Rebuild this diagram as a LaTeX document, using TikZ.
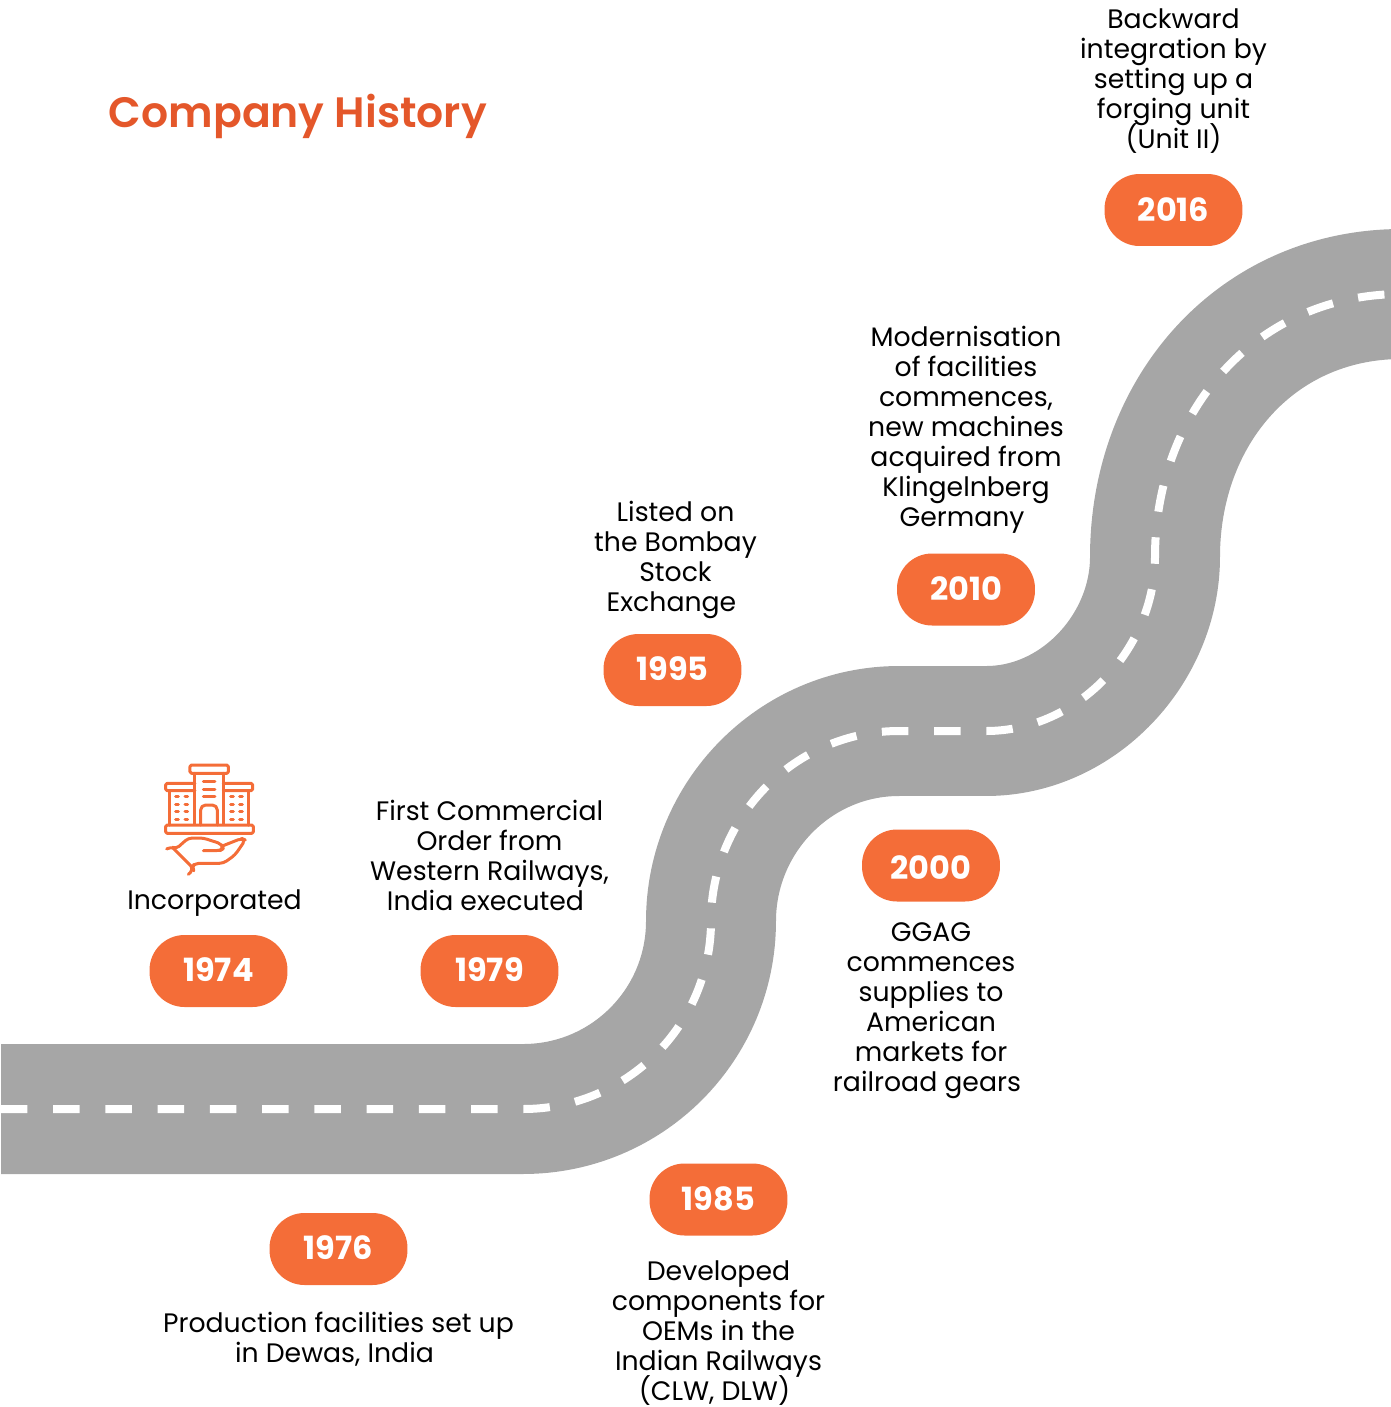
\documentclass[tikz,border=0pt]{standalone}
\usepackage{fontspec}
\setmainfont{Poppins}
\newfontfamily\titlefont{Poppins SemiBold}
\definecolor{roadgray}{HTML}{A6A6A6}
\definecolor{pillorange}{HTML}{F46D38}
\definecolor{titleorange}{HTML}{E4572A}
\newcommand{\trail}{\kern0.3em}
\setlength{\normallineskiplimit}{-20pt}
\setlength{\lineskiplimit}{-20pt}
\tikzset{
	yearbox/.style={rectangle,fill=pillorange,text=white,minimum width=2.76cm,minimum height=1.44cm,rounded corners=0.7cm,inner sep=0pt,font=\fontsize{18.2}{20}\selectfont\bfseries},
	milestone/.style={align=center,inner sep=0pt,text=black,font=\fontsize{15.2}{17.07}\selectfont},
	roadline/.style={line width=2.6cm,draw=roadgray},
	laneline/.style={line width=0.16cm,draw=white,dash pattern=on 0.53cm off 0.515cm},
	iconline/.style={draw=pillorange,line width=0.06cm,rounded corners=0.03cm,line cap=round,line join=round}
}
\begin{document}
\begin{tikzpicture}[x=0.02cm,y=-0.02cm]
	\clip (0,0) rectangle (1391,1407);
	\def\roadpath{(1,1109) -- (523,1109) .. controls (627,1109) and (711,1025) .. (711,921) .. controls (711,817) and (795,731) .. (899,731) -- (986,731) .. controls (1079,731) and (1155,648) .. (1155,557) .. controls (1155,412) and (1255,295) .. (1400,294)}
	\draw[roadline] \roadpath;
	\draw[laneline] \roadpath;

	\node[anchor=west,inner sep=0pt,text=titleorange,font=\fontsize{24.2}{30}\selectfont\titlefont](title) at (108.5,116) {Company History};

	\node[yearbox](y1974) at (218.5,971) {\raisebox{1.2pt}{1974}};
	\node[yearbox](y1976) at (338.5,1249) {\raisebox{1.2pt}{1976}};
	\node[yearbox](y1979) at (489.5,971) {\raisebox{1.2pt}{1979}};
	\node[yearbox](y1985) at (718.5,1199.5) {\raisebox{0.6pt}{1985}};
	\node[yearbox](y1995) at (672.5,670) {\raisebox{1.2pt}{1995}};
	\node[yearbox](y2000) at (931,865.5) {\raisebox{0pt}[\dimexpr\height+2.4pt]{2000}};
	\node[yearbox](y2010) at (966,589.5) {\raisebox{0.6pt}{2010}};
	\node[yearbox](y2016) at (1173.5,210) {\raisebox{0.6pt}{2016}};

	\node[milestone,anchor=south,yshift=0.36cm](t1974) at (y1974.north) {Incorporated\trail};
	\node[milestone,anchor=north,yshift=-0.52cm](t1976) at (y1976.south) {Production facilities set up\\in Dewas, India\trail};
	\node[milestone,anchor=south,yshift=0.48cm](t1979) at (y1979.north) {First Commercial\\Order from\\Western Railways,\\India executed\trail};
	\node[milestone,anchor=north,yshift=-0.49cm](t1985) at (y1985.south) {Developed\\components for\\OEMs in the\\Indian Railways\\(CLW, DLW)\trail};
	\node[milestone,anchor=south,yshift=0.3cm,xshift=0.06cm](t1995) at (y1995.north) {Listed on\\the Bombay\\Stock\\Exchange\trail};
	\node[milestone,anchor=north,yshift=-0.41cm](t2000) at (y2000.south) {GGAG\\commences\\supplies to\\American\\markets for\\railroad gears\trail};
	\node[milestone,anchor=south,yshift=0.39cm](t2010) at (y2010.north) {Modernisation\\of facilities\\commences,\\new machines\\acquired from\\Klingelnberg\\Germany\trail};
	\node[milestone,anchor=south,yshift=0.4cm](t2016) at (y2016.north) {Backward\\integration by\\setting up a\\forging unit\\(Unit II)};

	\begin{scope}[shift={(140,750)},x=0.00667cm,y=-0.00667cm]
		\draw[iconline] (150,45) rectangle (265,70);
		\draw[iconline] (165,70) -- (165,222);
		\draw[iconline] (250,70) -- (250,222);
		\draw[iconline] (165,100) -- (77,100) -- (77,122) -- (165,122);
		\draw[iconline] (250,100) -- (338,100) -- (338,122) -- (250,122);
		\draw[iconline] (88,122) -- (88,225);
		\draw[iconline] (325,122) -- (325,225);
		\draw[iconline] (77,225) rectangle (340,250);
		\draw[iconline,rounded corners=0.1cm] (182,225) -- (182,165) -- (232,165) -- (232,225);
		\foreach \liney in {95,118,140}
			\draw[iconline] (190,\liney) -- (225,\liney);
		\foreach \winx in {107,135,272,299}
			\foreach \winy in {140,163,185,207}
				\draw[iconline] (\winx,\winy) -- (\winx+8,\winy);
		\draw[iconline,rounded corners=0.08cm] (80,297) -- (92,290) -- (108,297) -- (145,264) -- (190,264) -- (245,282) -- (250,296) -- (240,302) -- (190,302);
		\draw[iconline,rounded corners=0.08cm] (247,288) -- (305,265) -- (316,270) -- (285,315) -- (250,340) -- (165,340) -- (155,352) -- (160,360) -- (145,373);
		\draw[iconline] (100,295) -- (155,350);
	\end{scope}
\end{tikzpicture}
\end{document}
